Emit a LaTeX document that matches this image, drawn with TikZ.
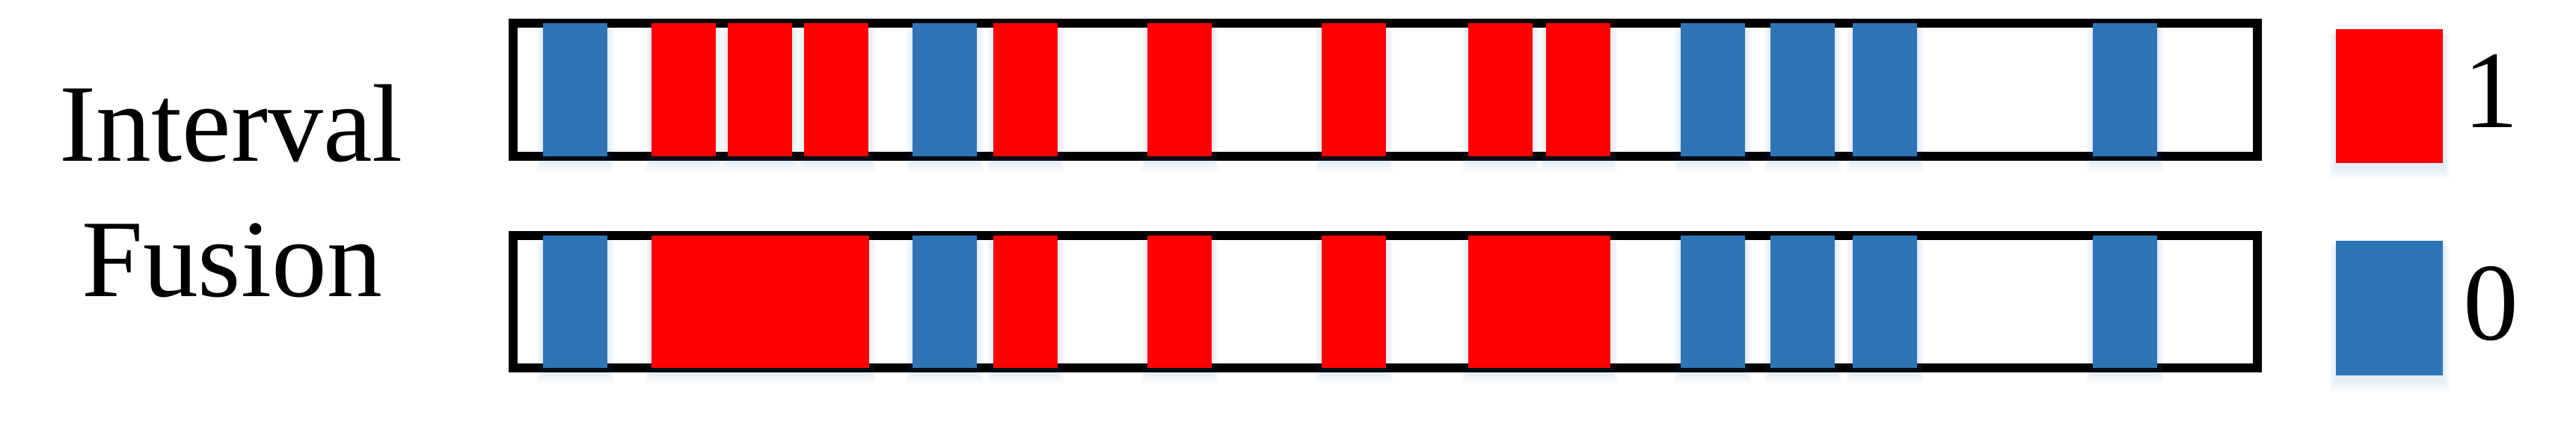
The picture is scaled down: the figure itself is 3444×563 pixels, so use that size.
\documentclass[tikz,border=0pt]{standalone}
\usepackage{fontspec}
\setmainfont{Liberation Serif}
\definecolor{barred}{RGB}{255,0,0}
\definecolor{barblue}{RGB}{46,117,182}
% a bar with its faint glow below
\newcommand{\glowbar}[5]{%
    \foreach \g in {3,6,...,18}
        \fill[barblue, opacity=.025] ({#1-\g/2},{#2+\g/2}) rectangle ({#1+#3+\g/2},{#2+#4+\g+4});
    \fill[#5] (#1,#2) rectangle ++(#3,#4);
}

\begin{document}
\begin{tikzpicture}[x=0.1mm, y=-0.1mm,
    track/.style={draw=black, line width=1.28mm},
    onebar/.style={fill=barred},
    zerobar/.style={fill=barblue},
    lbl/.style={font=\fontsize{42}{50}\selectfont, anchor=base, inner sep=0pt}]
    \useasboundingbox (0,0) rectangle (3444,563);
    % row labels
    \node[lbl] (lblint) at (309,216) {Interval};
    \node[lbl] (lblfus) at (310,396) {Fusion};
    % Interval row
    \draw[track] (686,31) rectangle (3018,209);
    \foreach \x in {726,1220,2247,2367,2477,2798}
        {\glowbar{\x}{31}{86}{178}{zerobar}}
    \foreach \x in {871,973,1075,1328,1534,1767,1963,2067}
        {\glowbar{\x}{31}{86}{178}{onebar}}
    % Fusion row
    \draw[track] (686,315) rectangle (3018,492);
    \foreach \x in {726,1220,2247,2367,2477,2798}
        {\glowbar{\x}{315}{86}{177}{zerobar}}
    \foreach \x/\w in {871/291,1328/86,1534/86,1767/86,1963/190}
        {\glowbar{\x}{315}{\w}{177}{onebar}}
    % legend
    \glowbar{3123}{39}{143}{179}{onebar}
    \node[lbl] (lblone) at (3330,171) {1};
    \glowbar{3123}{322}{143}{180}{zerobar}
    \node[lbl] (lblzero) at (3330,454) {0};
\end{tikzpicture}
\end{document}
